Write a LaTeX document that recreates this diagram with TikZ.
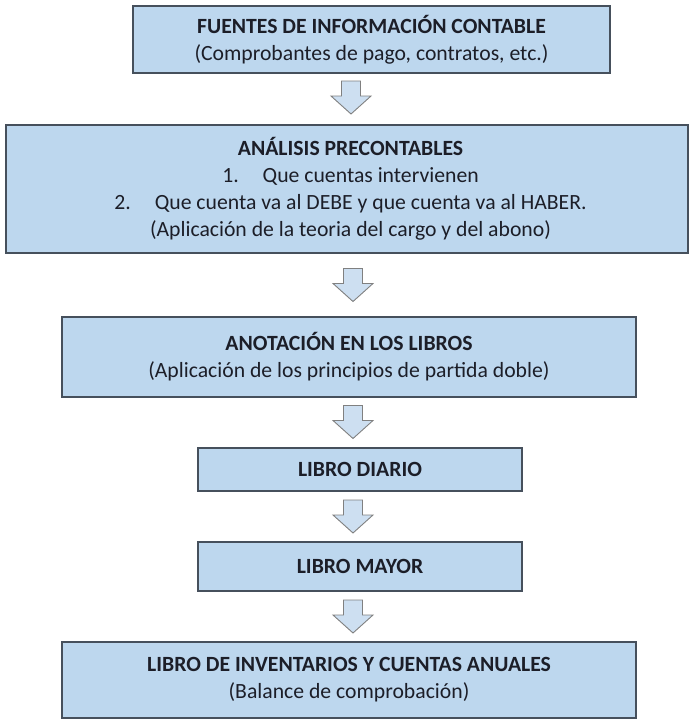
\documentclass[tikz,border=0pt]{standalone}
\usepackage{fontspec}
\setmainfont{Carlito}
\usetikzlibrary{positioning}
\definecolor{boxfill}{RGB}{189,215,238}
\definecolor{boxline}{RGB}{70,80,92}
\definecolor{arrfill}{RGB}{205,223,241}
\definecolor{arrline}{RGB}{128,128,128}
\definecolor{txt}{RGB}{28,30,40}
\tikzset{
  flowbox/.style={draw=boxline, line width=1.4pt, fill=boxfill, text=txt,
    align=center, inner sep=0pt,
    font=\fontsize{21.7}{27}\selectfont},
  blockarrow/.pic={
    \draw[draw=arrline, fill=arrfill, line width=0.9pt, line join=miter]
      (-9.5,0) -- (9.5,0) -- (9.5,15) -- (20,15) -- (0,33) -- (-20,15) -- (-9.5,15) -- cycle;
  }
}
\newcommand{\shiftline}{\hspace*{7pt}}
\begin{document}
\begin{tikzpicture}[x=1pt,y=-1pt]
\useasboundingbox (0,0) rectangle (691,720);
\node[flowbox, minimum width=477pt, minimum height=67pt] (b1) at (371.5,39.5)
  {\textbf{FUENTES DE INFORMACIÓN CONTABLE}\\(Comprobantes de pago, contratos, etc.)};
\node[flowbox, minimum width=682pt, minimum height=128pt] (b2) at (347,189)
  {\shiftline\textbf{ANÁLISIS PRECONTABLES}\\\shiftline 1.\hspace{24pt}Que cuentas intervienen\\\shiftline 2.\hspace{24pt}Que cuenta va al DEBE y que cuenta va al HABER.\\\shiftline(Aplicación de la teoria del cargo y del abono)};
\node[flowbox, minimum width=574pt, minimum height=80pt] (b3) at (349,357)
  {\textbf{ANOTACIÓN EN LOS LIBROS}\\(Aplicación de los principios de partida doble)};
\node[flowbox, minimum width=324pt, minimum height=43pt] (b4) at (360,469.5)
  {\textbf{LIBRO DIARIO}};
\node[flowbox, minimum width=324pt, minimum height=49pt] (b5) at (360,566.5)
  {\textbf{LIBRO MAYOR}};
\node[flowbox, minimum width=574pt, minimum height=76pt] (b6) at (349,680)
  {\textbf{LIBRO DE INVENTARIOS Y CUENTAS ANUALES}\\(Balance de comprobación)};
\pic (a1) at (351,81) {blockarrow};
\pic (a2) at (353,268.5) {blockarrow};
\pic (a3) at (353,405.5) {blockarrow};
\pic (a4) at (353,500) {blockarrow};
\pic (a5) at (353,600) {blockarrow};
\end{tikzpicture}
\end{document}
